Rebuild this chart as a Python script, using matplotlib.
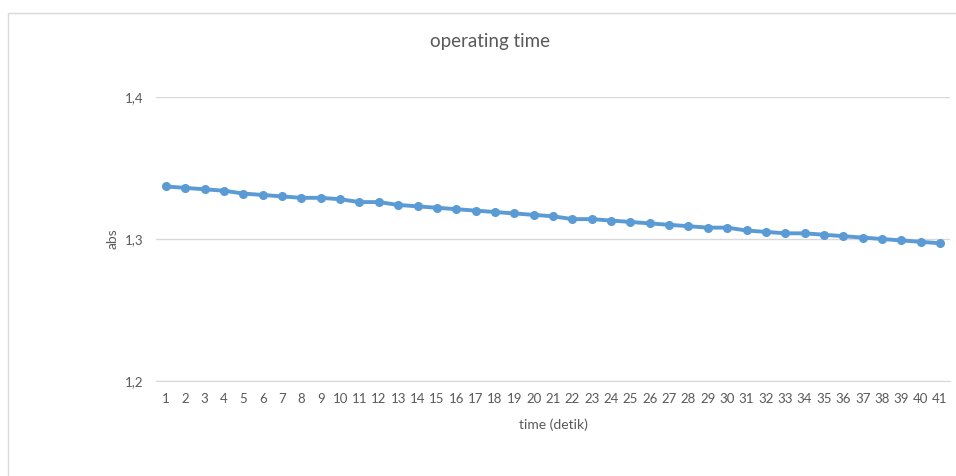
import numpy as np
import matplotlib.pyplot as plt
from matplotlib.patches import Rectangle

# time in seconds (detik) and absorbance readings
time_s = list(range(1, 42))
absorb = [1.337, 1.336, 1.335, 1.334, 1.332, 1.331, 1.330, 1.329, 1.329, 1.328,
          1.326, 1.326, 1.324, 1.323, 1.322, 1.321, 1.320, 1.319, 1.318, 1.317,
          1.316, 1.314, 1.314, 1.313, 1.312, 1.311, 1.310, 1.309, 1.308, 1.308,
          1.306, 1.305, 1.304, 1.304, 1.303, 1.302, 1.301, 1.300, 1.299, 1.298,
          1.297]
y_ticks = [1.2, 1.3, 1.4]
y_tick_labels = ["1,2", "1,3", "1,4"]

plt.rcParams['font.family'] = ['Lato', 'DejaVu Sans']
txt = "#595959"

fig = plt.figure(figsize=(9.56, 4.76), dpi=100)
# chart border like the Excel chart frame
fig.patches.append(Rectangle((8 / 956, -0.1), 1.1, 1 - 13 / 476 + 0.1, transform=fig.transFigure,
                             fill=False, edgecolor="#d9d9d9", linewidth=1))

ax = fig.add_axes([0.1635, 0.1996, 0.8299, 0.5966])
ax.plot(time_s, absorb, "-o", color="#5b9bd5", linewidth=2.8, markersize=5.5, zorder=3)

ax.set_xlim(0.5, 41.5)
ax.set_ylim(1.2, 1.4)
ax.set_xticks(time_s)
ax.set_xticklabels([str(t) for t in time_s])
ax.set_yticks(y_ticks)
ax.set_yticklabels(y_tick_labels)
ax.grid(axis="y", color="#d9d9d9", linewidth=1)
ax.set_axisbelow(True)
for s in ["top", "right", "left"]:
    ax.spines[s].set_visible(False)
ax.spines["bottom"].set_color("#d9d9d9")
ax.tick_params(axis="both", length=0, labelsize=9.5, colors=txt)
ax.tick_params(axis="x", pad=9)
ax.tick_params(axis="y", pad=9)

fig.text(490 / 956, 1 - 42 / 476, "operating time", fontsize=13.5, color=txt,
         ha="center", va="center")
ax.set_xlabel("time (detik)", fontsize=10, color=txt, labelpad=9)
ax.set_ylabel("abs", fontsize=10, color=txt, labelpad=5)

plt.savefig("out.png", dpi=100)
